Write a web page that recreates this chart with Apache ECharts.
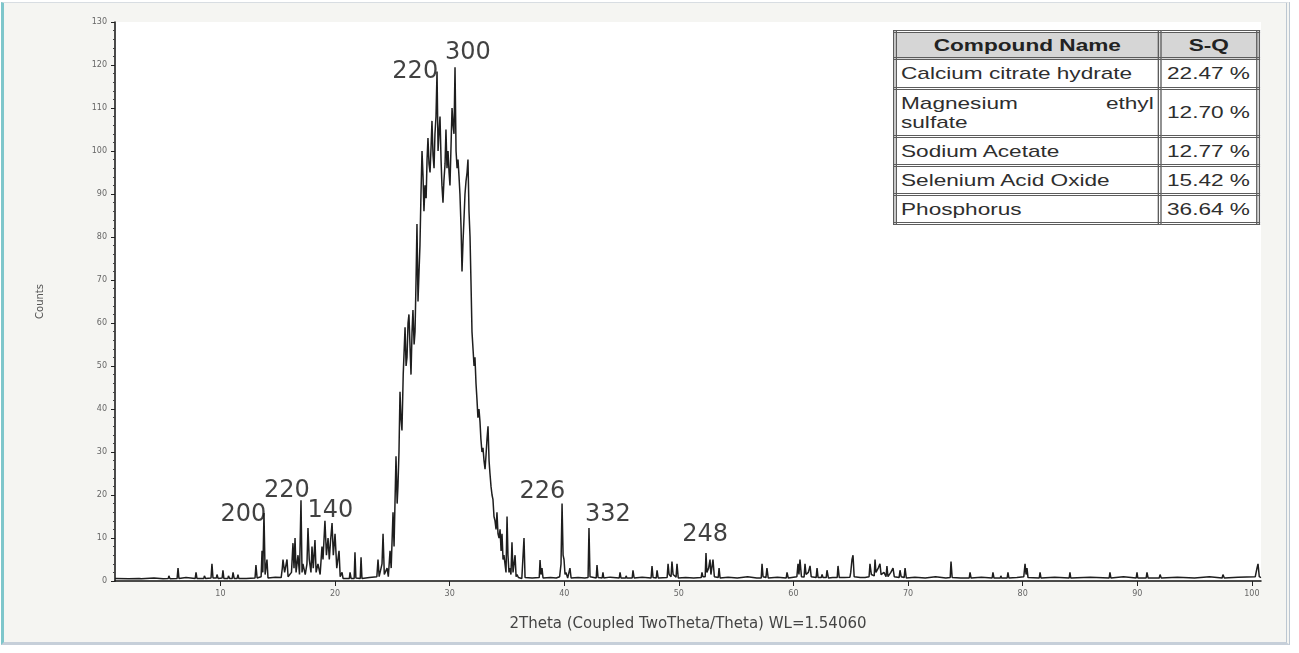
<!DOCTYPE html>
<html>
<head>
<meta charset="utf-8">
<title>XRD pattern</title>
<script src="https://cdn.jsdelivr.net/npm/echarts@6.0.0/dist/echarts.min.js"></script>
<style>
    html, body { margin: 0; padding: 0; background: #ffffff; }
    #frame {
        position: absolute; left: 1px; top: 2px; width: 1289px; height: 643px;
        box-sizing: border-box;
        border-left: 3px solid #7ec6cb; border-top: 1px solid #d8dde2;
        border-right: 4px double #bcc7d2; border-bottom: 3px solid #c6cfd9;
        background: #f5f5f2;
    }
    #main { position: absolute; left: 0; top: 0; width: 1299px; height: 653px; }
    #sq {
        position: absolute; left: 893px; top: 30px;
        transform: scaleX(1.33); transform-origin: 0 0;
        font-family: "Liberation Sans", Arial, sans-serif; color: #2e2e2e;
    }
    #sq table { border-collapse: collapse; width: 276px; background: #fff; }
    #sq td { border: 3px double #5c5c5c; font-size: 17px; padding: 0 3px; line-height: 19px; white-space: nowrap; }
    #sq tr.head td { background: #d6d6d6; font-weight: bold; text-align: center; color: #222; }
    #sq td.val { padding-left: 4px; }
    .jl { display: flex; justify-content: space-between; }
</style>
</head>
<body>
<div id="frame"></div>
<div id="main"></div>
<div id="sq"></div>
<script>
// [2theta, counts]
var lowAngle = [
    [0.8, 0.6], [2.0, 0.5], [2.9, 0.6], [3.0, 1.0], [3.1, 0.5], [4.2, 0.7], [5.0, 0.5], [5.45, 0.6], [5.5, 1.2], [5.6, 0.5],
    [6.22, 0.6], [6.3, 3], [6.38, 0.6], [7.0, 0.8], [7.8, 0.6], [7.87, 2], [7.95, 0.6], [8.55, 0.6], [8.6, 1.2], [8.7, 0.6],
    [9.18, 0.7], [9.26, 4], [9.35, 0.7], [9.65, 0.7], [9.7, 1.5], [9.8, 0.6], [10.15, 0.7], [10.22, 2.5], [10.3, 0.6], [10.65, 0.6],
    [10.7, 1.2], [10.8, 0.6], [11.03, 0.6], [11.1, 2], [11.2, 0.6], [11.46, 0.6], [11.53, 1.5], [11.6, 0.6], [12.25, 0.6], [12.3, 1.0],
    [12.4, 0.6], [13.02, 0.7], [13.1, 3.7], [13.2, 0.7], [13.55, 1], [13.63, 7], [13.7, 2], [13.8, 15.8], [13.9, 1.5], [14.06, 5],
    [14.15, 0.7], [14.8, 0.9], [15.3, 0.8], [15.4, 3], [15.46, 5], [15.6, 2], [15.81, 5], [15.9, 1], [16.2, 2], [16.33, 8.8],
    [16.42, 3], [16.51, 10], [16.6, 2], [16.77, 6], [16.9, 1.5], [17.03, 18.8], [17.12, 2], [17.2, 4], [17.4, 1.5], [17.55, 4],
    [17.64, 12.3], [17.75, 5], [17.9, 2], [17.99, 8], [18.1, 3], [18.25, 9.5], [18.35, 2], [18.51, 4], [18.7, 1.5], [18.86, 8],
    [18.95, 5], [19.12, 14], [19.25, 6], [19.39, 10], [19.5, 5], [19.6, 9], [19.74, 13.5], [19.85, 6], [20.0, 11], [20.15, 3],
    [20.35, 7], [20.45, 1], [20.61, 2], [20.7, 0.6], [21.25, 0.6], [21.31, 2], [21.4, 0.6], [21.67, 0.6], [21.74, 6.7], [21.82, 0.7],
    [22.2, 0.6], [22.27, 5.5], [22.35, 0.6], [23.0, 0.8], [23.65, 1], [23.75, 5], [23.85, 1], [24.1, 4], [24.19, 11], [24.3, 1.5],
    [24.54, 3], [24.65, 1], [24.8, 7], [24.9, 3]
];

var mainHump = [
    [25.06, 16], [25.15, 8], [25.32, 29], [25.42, 18], [25.49, 22], [25.58, 30], [25.67, 44], [25.75, 38], [25.84, 35], [25.95, 48],
    [26.11, 59], [26.2, 50], [26.28, 52], [26.37, 60], [26.45, 62], [26.55, 54], [26.63, 48], [26.72, 58], [26.8, 63], [26.9, 55],
    [26.98, 58], [27.07, 70], [27.15, 83], [27.24, 65], [27.33, 72], [27.41, 78], [27.5, 90], [27.59, 100], [27.68, 94], [27.76, 86],
    [27.85, 92], [27.95, 89], [28.03, 98], [28.11, 103], [28.2, 97], [28.29, 95], [28.38, 101], [28.46, 107], [28.55, 99], [28.64, 96],
    [28.72, 104], [28.81, 108], [28.9, 118.5], [28.99, 100], [29.07, 104], [29.16, 108], [29.25, 98], [29.33, 92], [29.42, 88], [29.5, 93],
    [29.6, 97], [29.68, 105], [29.77, 96], [29.86, 100], [29.95, 95], [30.03, 92], [30.12, 101], [30.21, 110], [30.3, 106], [30.38, 104],
    [30.47, 119.5], [30.56, 100], [30.65, 96], [30.73, 98], [30.82, 94], [30.9, 90], [31.0, 82], [31.08, 72], [31.17, 79], [31.25, 84],
    [31.34, 90], [31.43, 93], [31.52, 95], [31.6, 98], [31.69, 86], [31.78, 80], [31.86, 70], [31.95, 58], [32.04, 54], [32.13, 50],
    [32.21, 52], [32.3, 46], [32.39, 42], [32.47, 38], [32.56, 40], [32.65, 37], [32.73, 33], [32.82, 30], [32.91, 31], [33.0, 28],
    [33.09, 26], [33.17, 29], [33.26, 33], [33.35, 36], [33.44, 28], [33.52, 25], [33.61, 22], [33.7, 20], [33.78, 19], [33.87, 15],
    [33.96, 14], [34.05, 12], [34.13, 16], [34.22, 11], [34.31, 10], [34.4, 12], [34.49, 7], [34.57, 11], [34.66, 5], [34.74, 6],
    [34.83, 4], [34.92, 2], [35.01, 15], [35.09, 6], [35.18, 2], [35.27, 3], [35.35, 1.5], [35.44, 9], [35.53, 2], [35.62, 2],
    [35.71, 6], [35.8, 1], [35.88, 1.5], [36.0, 0.8]
];

var highAngle = [
    [36.07, 0.8], [36.14, 1.2], [36.3, 0.6], [36.42, 0.7], [36.49, 10], [36.58, 0.8], [36.66, 1], [36.75, 0.6], [37.2, 0.7], [37.82, 0.8],
    [37.89, 4.9], [37.97, 1.5], [38.06, 3], [38.15, 0.7], [38.8, 0.8], [39.3, 0.7], [39.6, 1], [39.72, 4], [39.81, 18], [39.9, 6],
    [39.98, 5], [40.07, 1.5], [40.15, 2], [40.3, 0.7], [40.43, 0.7], [40.5, 3], [40.6, 0.7], [41.2, 0.8], [41.8, 0.7], [42.08, 0.8],
    [42.16, 12.3], [42.25, 1], [42.4, 0.7], [42.79, 0.7], [42.86, 3.7], [42.95, 0.8], [43.31, 0.7], [43.38, 2], [43.45, 0.7], [44.0, 0.9],
    [44.8, 0.7], [44.87, 2], [44.95, 0.7], [45.35, 0.7], [45.4, 1.2], [45.47, 0.7], [45.93, 0.7], [46.0, 2.5], [46.1, 0.7], [46.8, 0.9],
    [47.58, 0.7], [47.66, 3.5], [47.75, 0.8], [48.03, 0.7], [48.1, 2.5], [48.2, 0.7], [48.98, 0.8], [49.06, 4], [49.15, 1.5], [49.32, 1],
    [49.4, 4.5], [49.5, 1.5], [49.76, 0.9], [49.84, 4], [49.95, 0.7], [50.6, 0.8], [51.3, 0.7], [51.95, 0.8], [52.02, 2], [52.1, 1],
    [52.3, 1], [52.37, 6.5], [52.45, 2], [52.6, 3], [52.72, 5], [52.8, 1.5], [52.9, 1.2], [52.98, 5], [53.1, 1], [53.44, 0.8],
    [53.51, 3], [53.6, 0.7], [54.3, 0.9], [55.1, 0.7], [56.0, 1], [56.8, 0.7], [57.19, 0.7], [57.26, 4], [57.35, 1], [57.6, 0.8],
    [57.69, 3], [57.8, 0.7], [58.6, 0.9], [59.37, 0.7], [59.44, 2], [59.55, 0.7], [60.3, 1], [60.4, 4], [60.48, 1.5], [60.57, 5],
    [60.7, 1], [60.93, 0.9], [61.01, 4], [61.1, 1.5], [61.3, 2], [61.45, 3.5], [61.55, 1], [61.98, 0.8], [62.06, 3], [62.15, 0.8],
    [62.43, 0.8], [62.5, 1.5], [62.58, 0.8], [62.86, 0.8], [62.93, 2.5], [63.05, 0.7], [63.43, 0.8], [63.5, 1.2], [63.57, 0.8], [63.82, 0.8],
    [63.89, 3.5], [64.0, 0.8], [64.43, 0.8], [64.5, 1.2], [64.57, 0.8], [64.93, 0.9], [65.0, 2], [65.11, 5], [65.2, 6], [65.3, 1],
    [65.83, 0.8], [65.9, 1.2], [65.97, 0.8], [66.25, 0.8], [66.3, 1], [66.6, 1], [66.68, 4], [66.8, 1.5], [67.05, 1.2], [67.12, 5],
    [67.2, 2], [67.4, 3], [67.55, 4], [67.65, 1.5], [67.9, 2], [68.08, 1], [68.16, 3.5], [68.25, 1], [68.5, 2], [68.69, 3],
    [68.8, 1], [69.22, 0.8], [69.3, 2.5], [69.4, 1], [69.66, 0.8], [69.74, 3], [69.85, 0.7], [70.6, 0.9], [71.5, 0.7], [72.4, 1],
    [73.3, 0.7], [73.68, 0.8], [73.75, 4.5], [73.85, 0.8], [74.6, 0.7], [75.34, 0.7], [75.41, 2], [75.5, 0.7], [76.4, 0.9], [77.34, 0.7],
    [77.41, 2], [77.5, 0.7], [78.05, 0.7], [78.1, 1.2], [78.17, 0.7], [78.65, 0.7], [78.72, 2], [78.8, 0.7], [79.5, 0.8], [80.1, 1],
    [80.21, 4], [80.3, 1.5], [80.38, 3], [80.47, 0.8], [81.45, 0.7], [81.52, 2], [81.6, 0.7], [82.8, 0.9], [84.06, 0.7], [84.13, 2],
    [84.2, 0.7], [85.9, 0.9], [87.55, 0.7], [87.62, 2], [87.7, 0.7], [88.8, 1], [89.91, 0.7], [89.98, 2], [90.05, 0.7], [90.78, 0.7],
    [90.85, 2], [90.95, 0.7], [91.92, 0.7], [91.99, 1.5], [92.1, 0.7], [93.5, 0.9], [95.0, 0.7], [96.3, 1], [97.41, 0.7], [97.48, 1.5],
    [97.6, 0.7], [98.8, 0.9], [100.3, 1], [100.45, 3], [100.54, 4], [100.65, 1], [100.8, 0.8]
];

// peak annotations (text anchor in data units)
var peakLabels = ['220', '300', '200', '220', '140', '226', '332', '248'];
var labelTheta = [27.0, 31.6, 12.0, 15.8, 19.6, 38.1, 43.8, 52.3];
var labelCounts = [118.4, 122.8, 15.3, 20.9, 16.3, 20.7, 15.3, 10.7];

var xTicks = [10, 20, 30, 40, 50, 60, 70, 80, 90, 100];

// S-Q table
var compoundNames = ['Calcium citrate hydrate', 'Magnesium ethyl\nsulfate', 'Sodium Acetate', 'Selenium Acid Oxide', 'Phosphorus'];
var sqValues = ['22.47 %', '12.70 %', '12.77 %', '15.42 %', '36.64 %'];
var rowHeights = [30, 48, 29, 29, 29];

buildTable();
initChart();

function buildTable() {
    var html = '<table><tr class="head" style="height:27px"><td style="width:190px">Compound Name</td><td>S-Q</td></tr>';
    for (var i = 0; i < compoundNames.length; i++) {
        var lines = compoundNames[i].split('\n');
        var name = '';
        if (lines.length > 1) {
            // first line is justified in the original
            var words = lines[0].split(' ');
            name = '<div class="jl"><span>' + words.join('</span><span>') + '</span></div><div>' + lines[1] + '</div>';
        } else {
            name = lines[0];
        }
        html += '<tr style="height:' + rowHeights[i] + 'px"><td>' + name + '</td><td class="val">' + sqValues[i] + '</td></tr>';
    }
    html += '</table>';
    document.getElementById('sq').innerHTML = html;
}

function initChart() {
    var myChart = echarts.init(document.getElementById('main'), null, {renderer: 'canvas'});

    var lineData = lowAngle.concat(mainHump, highAngle);
    var labelData = [];
    for (var j = 0; j < peakLabels.length; j++) {
        labelData.push([labelTheta[j], labelCounts[j], peakLabels[j]]);
    }

    var option = {
        backgroundColor: 'transparent',
        animation: false,
        grid: {
            left: 115, right: 38, top: 22, bottom: 72,
            show: true, backgroundColor: '#ffffff', borderWidth: 0,
            outerBoundsMode: 'none'
        },
        xAxis: {
            type: 'value',
            min: 0.8, max: 100.8,
            name: '2Theta (Coupled TwoTheta/Theta) WL=1.54060',
            nameLocation: 'middle',
            nameGap: 36,
            nameTextStyle: {fontFamily: 'DejaVu Sans', fontSize: 15, color: '#444'},
            axisLine: {onZero: false, lineStyle: {color: '#111', width: 1.5}},
            axisTick: {customValues: xTicks, length: 5, lineStyle: {color: '#222'}},
            axisLabel: {customValues: xTicks, fontSize: 8, color: '#666', fontFamily: 'DejaVu Sans', margin: 9},
            splitLine: {show: false}
        },
        yAxis: {
            type: 'value',
            min: 0, max: 130, interval: 10,
            name: 'Counts',
            nameLocation: 'middle',
            nameGap: 70,
            nameTextStyle: {fontFamily: 'DejaVu Sans', fontSize: 10, color: '#555'},
            axisLine: {show: true, lineStyle: {color: '#111', width: 1.5}},
            axisTick: {show: true, length: 4, lineStyle: {color: '#222'}},
            minorTick: {show: true, splitNumber: 5, length: 2, lineStyle: {color: '#444'}},
            axisLabel: {fontSize: 8, color: '#666', fontFamily: 'DejaVu Sans', margin: 8},
            splitLine: {show: false}
        },
        series: [
            {
                type: 'line',
                data: lineData,
                symbol: 'none',
                lineStyle: {color: '#1e1e1e', width: 1.5},
                z: 2
            },
            {
                type: 'scatter',
                data: labelData,
                symbolSize: 1,
                itemStyle: {color: 'rgba(0,0,0,0)'},
                label: {
                    show: true,
                    position: 'inside',
                    formatter: function (p) { return p.data[2]; },
                    fontFamily: 'DejaVu Sans',
                    fontSize: 24,
                    color: '#111'
                },
                z: 3
            }
        ]
    };
    myChart.setOption(option);
}
</script>
</body>
</html>
